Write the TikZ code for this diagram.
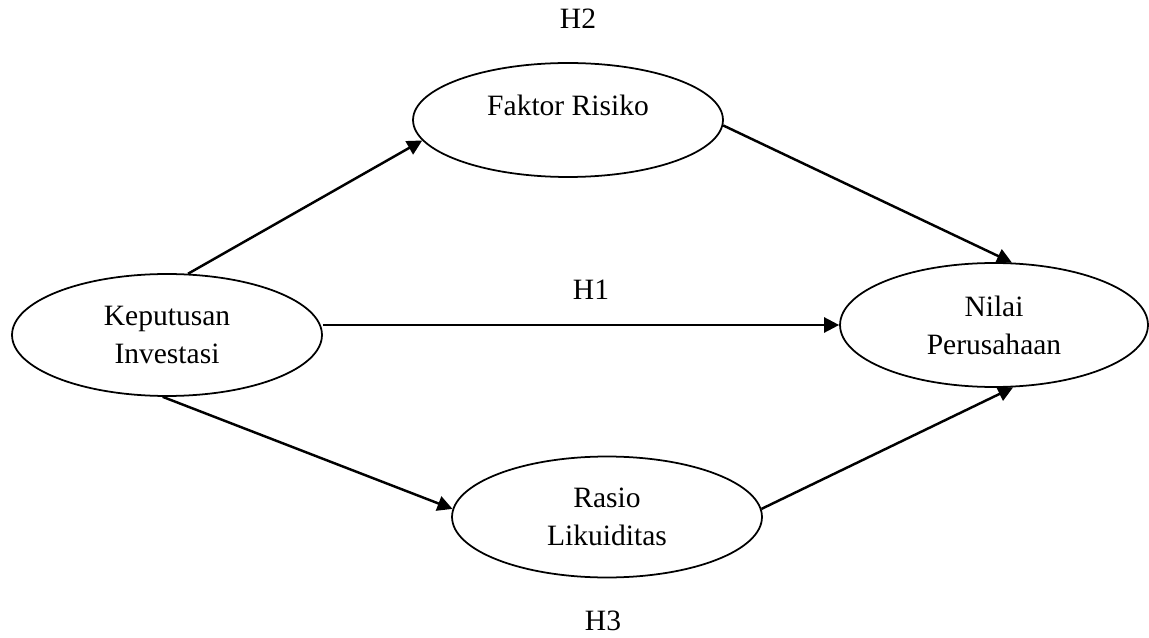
\documentclass[tikz,border=0pt]{standalone}
\usepackage{fontspec}
\setmainfont{Liberation Serif}
\usetikzlibrary{arrows.meta}
\usetikzlibrary{shapes.geometric}
\tikzset{var/.style = {draw, ellipse, line width = 1pt, inner sep = 0,
                       minimum width = 6.2cm, minimum height = 2.42cm,
                       align = center, font = \fontsize{16.8}{21.6}\selectfont}}
\tikzset{txt/.style = {inner sep = 0, align = center, font = \fontsize{16.8}{21.6}\selectfont}}
\tikzset{arr/.style = {-{Triangle[length = 0.3cm, width = 0.3cm]}, line width = 1.4pt}}

\begin{document}
\begin{tikzpicture}[x = 0.02cm, y = -0.02cm]
      \useasboundingbox (0, 0) rectangle (1149, 638);

      \node [var, minimum height = 2.44cm] (kep) at (167, 335) {Keputusan\\Investasi};
      \node [var, minimum height = 2.28cm] (fak) at (568, 120) {};
      \node [txt] (fak-txt) at (568, 105) {Faktor Risiko};
      \node [var, minimum width = 6.16cm, minimum height = 2.48cm] (nil) at (994, 325) {Nilai\\Perusahaan};
      \node [var] (ras) at (607, 517) {Rasio\\Likuiditas};

      \draw [arr] (kep.71) -- (fak.188);
      \draw [arr] (fak.-2) -- (nil.74);
      \draw [arr] (kep.east |- nil.west) -- (nil.west);
      \draw [arr] (kep.266) -- (ras.177);
      \draw [arr] (ras.3) -- (nil.287);

      \node [txt] (h2) at (578, 19) {H2};
      \node [txt] (h1) at (591, 290) {H1};
      \node [txt] (h3) at (603, 621) {H3};
    \end{tikzpicture}
\end{document}
